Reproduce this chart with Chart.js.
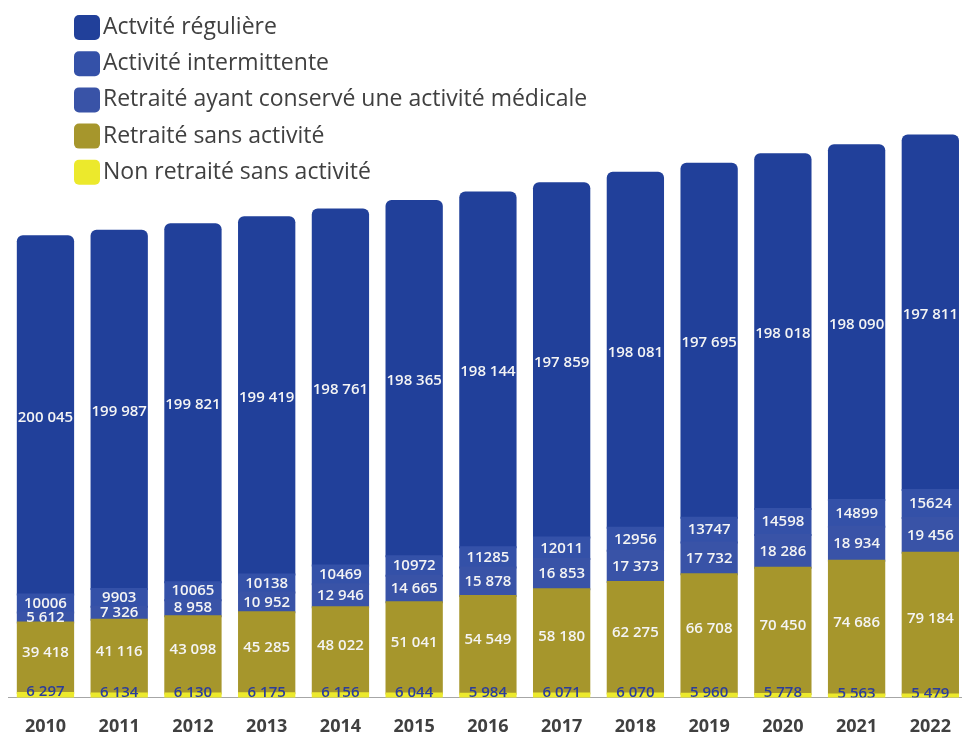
<!DOCTYPE html>
<html lang="fr">
<head>
<meta charset="utf-8">
<title>Médecins selon l'activité</title>
<script src="https://cdn.jsdelivr.net/npm/chart.js@4.4.0/dist/chart.umd.min.js"></script>
<style>
  html, body { margin: 0; padding: 0; background: #fff; overflow: hidden; }
  canvas { display: block; }
</style>
</head>
<body>
<canvas id="myChart" width="970" height="762"></canvas>
<script>
// années en abscisse
const annees = ['2010', '2011', '2012', '2013', '2014', '2015', '2016', '2017', '2018', '2019', '2020', '2021', '2022'];

// effectifs par catégorie (du bas de la pile vers le haut)
const nonRetraiteSansActivite = [6297, 6134, 6130, 6175, 6156, 6044, 5984, 6071, 6070, 5960, 5778, 5563, 5479];
const retraiteSansActivite = [39418, 41116, 43098, 45285, 48022, 51041, 54549, 58180, 62275, 66708, 70450, 74686, 79184];
const retraiteActif = [5612, 7326, 8958, 10952, 12946, 14665, 15878, 16853, 17373, 17732, 18286, 18934, 19456];
const activiteIntermittente = [10006, 9903, 10065, 10138, 10469, 10972, 11285, 12011, 12956, 13747, 14598, 14899, 15624];
const activiteReguliere = [200045, 199987, 199821, 199419, 198761, 198365, 198144, 197859, 198081, 197695, 198018, 198090, 197811];

const libelles = ['Non retraité sans activité', 'Retraité sans activité', 'Retraité ayant conservé une activité médicale', 'Activité intermittente', 'Actvité régulière'];
const couleurs = ['#ece92c', '#a6962c', '#3953a7', '#3451a8', '#21409a'];

// 1 234 -> "1 234" ; la série intermittente est affichée sans séparateur
function formater(v, brut) {
    if (brut) return String(v);
    return String(v).replace(/\B(?=(\d{3})+(?!\d))/g, ' ');
}

// valeurs écrites au milieu de chaque segment
const etiquettes = {
    id: 'etiquettes',
    afterDatasetsDraw(chart) {
        const ctx = chart.ctx;
        const zone = chart.chartArea;
        ctx.save();
        ctx.beginPath();
        ctx.rect(zone.left, zone.top, zone.right - zone.left, zone.bottom - zone.top);
        ctx.clip();
        ctx.font = '600 15px "Open Sans"';
        ctx.textAlign = 'center';
        ctx.textBaseline = 'middle';
        chart.data.datasets.forEach((ds, i) => {
            const meta = chart.getDatasetMeta(i);
            meta.data.forEach((barre, j) => {
                let y = (barre.y + barre.base) / 2;
                let couleur = '#f4f4f4';
                if (i === 4) y += 2;
                if (i === 1) y -= 5;
                if (i === 0) {
                    // la base est sous l'axe : on cale le texte sur le haut du segment
                    y = barre.y - 1;
                    couleur = '#2b3d9c';
                }
                ctx.fillStyle = couleur;
                ctx.fillText(formater(ds.data[j], i === 3), barre.x, y);
            });
        });
        ctx.restore();
    }
};

// légende en colonne, en haut à gauche, du haut de la pile vers le bas
const legende = {
    id: 'legende',
    afterDraw(chart) {
        const ctx = chart.ctx;
        const jeux = chart.data.datasets.slice().reverse();
        ctx.save();
        ctx.font = '23px "Open Sans"';
        ctx.textAlign = 'left';
        ctx.textBaseline = 'middle';
        jeux.forEach((ds, i) => {
            const y = 15 + i * 36.2;
            ctx.fillStyle = ds.backgroundColor;
            ctx.beginPath();
            ctx.roundRect(74, y, 26, 25, 5);
            ctx.fill();
            ctx.fillStyle = '#404040';
            ctx.fillText(ds.label, 103, y + 12.5);
        });
        ctx.restore();
    }
};

const series = [nonRetraiteSansActivite, retraiteSansActivite, retraiteActif, activiteIntermittente, activiteReguliere];

const ctx = document.getElementById('myChart');

new Chart(ctx, {
    type: 'bar',
    data: {
        labels: annees,
        datasets: series.map((valeurs, i) => ({
            label: libelles[i],
            data: valeurs,
            backgroundColor: couleurs[i],
            borderWidth: 0,
            borderRadius: i === 4 ? 6 : 0,
            inflateAmount: 1,
            clip: 0,
            barPercentage: 0.75,
            categoryPercentage: 1
        }))
    },
    options: {
        responsive: false,
        animation: false,
        layout: { padding: { left: 8.6, right: 2, top: 77.5, bottom: 5 } },
        plugins: {
            legend: { display: false },
            tooltip: { enabled: false }
        },
        scales: {
            x: {
                stacked: true,
                grid: { display: false, drawTicks: false },
                border: { display: true, color: '#a6a6a6', width: 1 },
                ticks: {
                    color: '#404040',
                    padding: 19,
                    font: { family: '"Open Sans"', size: 18, weight: 'bold' }
                }
            },
            y: {
                stacked: true,
                display: false,
                min: 3900,
                max: 350000
            }
        }
    },
    plugins: [etiquettes, legende]
});
</script>
</body>
</html>
